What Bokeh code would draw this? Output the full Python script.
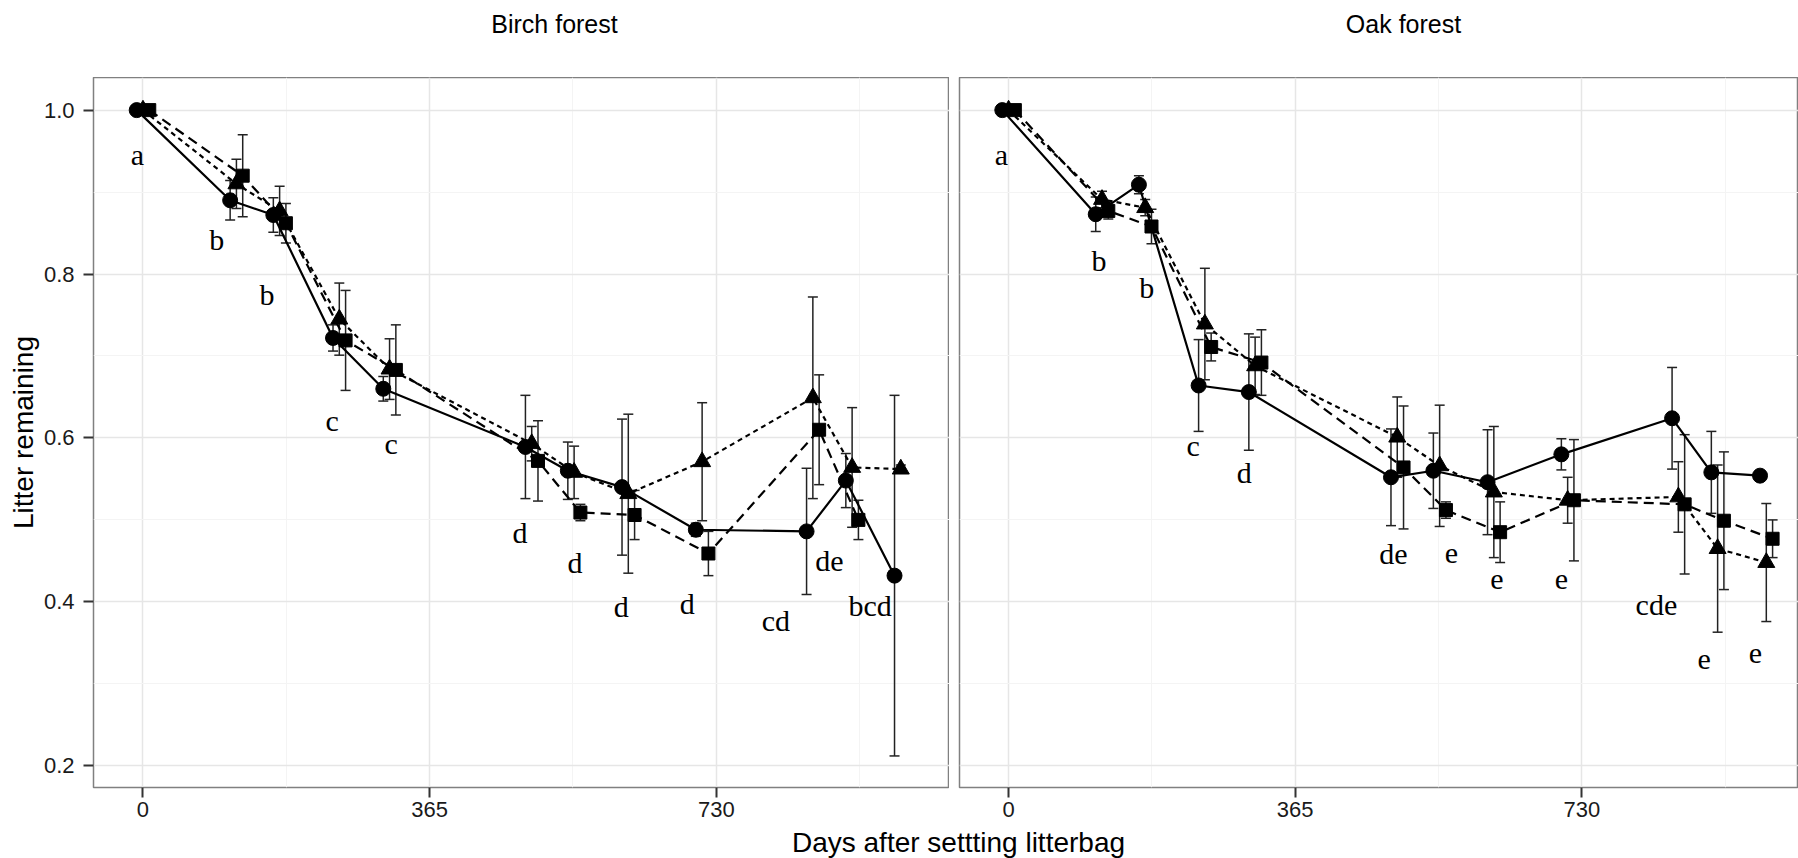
import math
from bokeh.plotting import figure
from bokeh.layouts import column, row
from bokeh.models import ColumnDataSource, Whisker, TeeHead, FixedTicker, Label
from bokeh.core.properties import value
from bokeh.embed import file_html
from bokeh.resources import INLINE

NaN = float("nan")

# ---------------- data ----------------
days = [0, 119, 174, 250, 314, 495, 549, 618, 712, 853, 903, 965]

x_ticks = [0, 365, 730]
x_minor = [182.5, 547.5, 912.5]
x_tick_labels = ["0", "365", "730"]
y_ticks = [0.2, 0.4, 0.6, 0.8, 1.0]
y_minor = [0.3, 0.5, 0.7, 0.9]
y_tick_labels = ["0.2", "0.4", "0.6", "0.8", "1.0"]

facet_titles = ["Birch forest", "Oak forest"]
x_title = "Days after settting litterbag"
y_title = "Litter remaining"

# Birch forest
birch_circle = [1.0, 0.890, 0.872, 0.722, 0.660, 0.589, 0.560, 0.540, 0.488, 0.486, 0.548, 0.432]
birch_circle_se = [0.0, 0.024, 0.021, 0.016, 0.015, 0.063, 0.035, 0.083, 0.008, 0.077, 0.033, 0.220]
birch_triangle = [1.0, 0.910, 0.877, 0.745, 0.684, 0.593, 0.558, 0.532, 0.571, 0.649, 0.564, 0.562]
birch_triangle_se = [0.0, 0.030, 0.030, 0.044, 0.037, 0.021, 0.032, 0.097, 0.072, 0.123, 0.073, 0.005]
birch_square = [1.0, 0.920, 0.862, 0.719, 0.683, 0.572, 0.509, 0.506, 0.459, 0.610, 0.500, NaN]
birch_square_se = [0.0, 0.050, 0.024, 0.061, 0.055, 0.049, 0.010, 0.030, 0.027, 0.067, 0.024, NaN]

birch_letters = ["a", "b", "b", "c", "c", "d", "d", "d", "d", "cd", "de", "bcd"]
birch_letter_x = [-7, 94, 158, 241, 316, 480, 550, 609, 693, 806, 874, 926]
birch_letter_y = [0.946, 0.842, 0.775, 0.621, 0.593, 0.485, 0.448, 0.394, 0.398, 0.377, 0.451, 0.396]

# Oak forest
oak_circle = [1.0, 0.873, 0.909, 0.664, 0.656, 0.552, 0.560, 0.546, 0.580, 0.624, 0.558, 0.554]
oak_circle_se = [0.0, 0.021, 0.011, 0.056, 0.071, 0.059, 0.046, 0.064, 0.019, 0.062, 0.050, 0.0]
oak_triangle = [1.0, 0.891, 0.881, 0.739, 0.688, 0.601, 0.566, 0.534, 0.524, 0.528, 0.465, 0.448]
oak_triangle_se = [0.0, 0.010, 0.010, 0.068, 0.035, 0.049, 0.074, 0.080, 0.028, 0.043, 0.102, 0.072]
oak_square = [1.0, 0.877, 0.858, 0.711, 0.692, 0.564, 0.512, 0.485, 0.524, 0.519, 0.499, 0.477]
oak_square_se = [0.0, 0.010, 0.021, 0.017, 0.040, 0.075, 0.010, 0.037, 0.074, 0.085, 0.084, 0.023]

oak_letters = ["a", "b", "b", "c", "d", "de", "e", "e", "e", "cde", "e", "e"]
oak_letter_x = [-9, 115, 176, 235, 300, 490, 564, 622, 704, 825, 886, 951]
oak_letter_y = [0.946, 0.816, 0.784, 0.591, 0.558, 0.459, 0.459, 0.427, 0.427, 0.397, 0.330, 0.337]

# ---------------- styling ----------------
SANS = "Liberation Sans"
SERIF = "Liberation Serif"
Y_RANGE = (0.1735, 1.0398)
FRAME_H = 710
TOP_H = 77
MID_H = 749
BOT_H = 858 - TOP_H - MID_H

series_style = [
    # (marker, size, dash, dodge offset in days)
    ("circle", 15, "solid", -8),
    ("triangle", 17, "5 4", 0),
    ("square", 13, "10 6", 8),
]


def style_panel(p, show_y):
    p.background_fill_color = "white"
    p.border_fill_color = "white"
    p.outline_line_color = "#808080"
    p.outline_line_width = 1.5
    p.xaxis.ticker = FixedTicker(ticks=x_ticks, minor_ticks=x_minor)
    p.xaxis.major_label_overrides = {t: l for t, l in zip(x_ticks, x_tick_labels)}
    p.xaxis.axis_line_color = None
    p.xaxis.major_tick_out = 10
    p.xaxis.major_tick_in = 0
    p.xaxis.major_tick_line_width = 2
    p.xaxis.major_tick_line_color = "#333333"
    p.xaxis.minor_tick_line_color = None
    p.xaxis.major_label_text_font = SANS
    p.xaxis.major_label_text_font_size = "22px"
    p.xaxis.major_label_text_color = "#1a1a1a"
    p.xaxis.major_label_standoff = 4
    p.xgrid.ticker = FixedTicker(ticks=x_ticks, minor_ticks=x_minor)
    p.ygrid.ticker = FixedTicker(ticks=y_ticks, minor_ticks=y_minor)
    for g in (p.xgrid, p.ygrid):
        g.grid_line_color = "#e6e6e6"
        g.grid_line_width = 1.5
        g.minor_grid_line_color = "#f4f4f4"
        g.minor_grid_line_width = 1
    if show_y:
        p.yaxis.ticker = FixedTicker(ticks=y_ticks, minor_ticks=y_minor)
        p.yaxis.major_label_overrides = {t: l for t, l in zip(y_ticks, y_tick_labels)}
        p.yaxis.axis_line_color = None
        p.yaxis.major_tick_out = 10
        p.yaxis.major_tick_in = 0
        p.yaxis.major_tick_line_width = 2
        p.yaxis.major_tick_line_color = "#333333"
        p.yaxis.minor_tick_line_color = None
        p.yaxis.major_label_text_font = SANS
        p.yaxis.major_label_text_font_size = "22px"
        p.yaxis.major_label_text_color = "#1a1a1a"
        p.yaxis.major_label_standoff = 9
        p.yaxis.axis_label = y_title
        p.yaxis.axis_label_text_font = SANS
        p.yaxis.axis_label_text_font_size = "28px"
        p.yaxis.axis_label_text_font_style = "normal"
        p.yaxis.axis_label_text_color = "black"
        p.yaxis.axis_label_standoff = 2


def draw_series(p, means, ses, style):
    marker, size, dash, dodge = style
    xs = [d + dodge for d in days]
    lower = [m - s for m, s in zip(means, ses)]
    upper = [m + s for m, s in zip(means, ses)]
    src = ColumnDataSource(dict(x=xs, y=means, lower=lower, upper=upper))
    w = Whisker(source=src, base="x", lower="lower", upper="upper", dimension="height",
                line_color="#222222", line_width=1.5,
                upper_head=TeeHead(size=10, line_color="#222222", line_width=1.5),
                lower_head=TeeHead(size=10, line_color="#222222", line_width=1.5))
    p.add_layout(w)
    p.line("x", "y", source=src, line_color="black", line_width=2.2, line_dash=dash)
    p.scatter("x", "y", source=src, marker=marker, size=size,
              fill_color="black", line_color="black")


def draw_letters(p, letters, lx, ly):
    src = ColumnDataSource(dict(x=lx, y=ly, t=letters))
    p.text("x", "y", text="t", source=src, text_font=value(SERIF),
           text_font_size="30px", text_align="center", text_baseline="middle",
           text_color="black")


# ---------------- panels ----------------
p1 = figure(width=949, height=MID_H, x_range=(-63, 1027), y_range=Y_RANGE,
            toolbar_location=None, output_backend="svg", title=None,
            min_border_left=93, min_border_right=0, min_border_top=0, min_border_bottom=MID_H - FRAME_H)
style_panel(p1, True)

p2 = figure(width=849, height=MID_H, x_range=(-62.5, 1006), y_range=Y_RANGE,
            toolbar_location=None, output_backend="svg", y_axis_location=None, title=None,
            min_border_left=10, min_border_right=0, min_border_top=0, min_border_bottom=MID_H - FRAME_H)
style_panel(p2, False)

birch = [(birch_circle, birch_circle_se), (birch_triangle, birch_triangle_se), (birch_square, birch_square_se)]
oak = [(oak_circle, oak_circle_se), (oak_triangle, oak_triangle_se), (oak_square, oak_square_se)]
for (m, s), st in zip(birch, series_style):
    draw_series(p1, m, s, st)
for (m, s), st in zip(oak, series_style):
    draw_series(p2, m, s, st)
draw_letters(p1, birch_letters, birch_letter_x, birch_letter_y)
draw_letters(p2, oak_letters, oak_letter_x, oak_letter_y)


def strip(h):
    f = figure(width=1798, height=h, x_range=(0, 1798), y_range=(0, h),
               toolbar_location=None, output_backend="svg", title=None,
               x_axis_location=None, y_axis_location=None, min_border=0,
               outline_line_color=None)
    f.grid.visible = False
    f.background_fill_color = "white"
    f.border_fill_color = "white"
    return f


top = strip(TOP_H)
for txt, cx in zip(facet_titles, [554, 1403]):
    top.add_layout(Label(x=cx, y=TOP_H - 23, text=txt, text_font=SANS, text_font_size="25px",
                         text_align="center", text_baseline="middle", text_color="black"))

bot = strip(BOT_H)
bot.add_layout(Label(x=958, y=BOT_H - 16, text=x_title, text_font=SANS, text_font_size="28px",
                     text_align="center", text_baseline="middle", text_color="black"))

layout = column(top, row(p1, p2, spacing=0), bot, spacing=0)
open("out.html", "w").write(file_html(layout, INLINE))
